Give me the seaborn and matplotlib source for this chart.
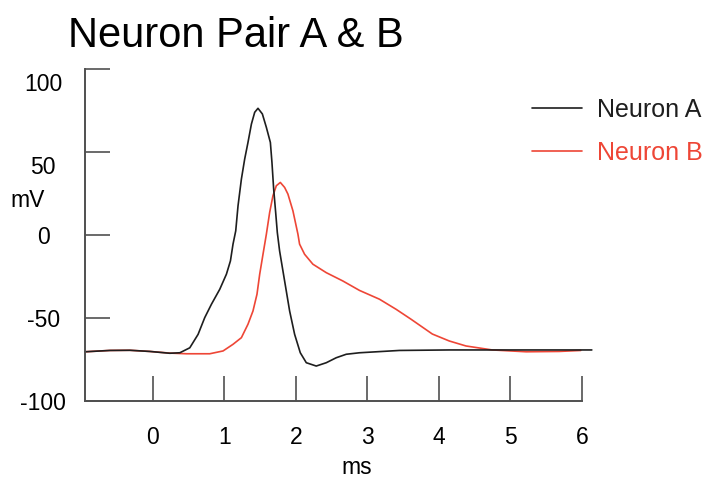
import matplotlib
matplotlib.use("Agg")
import matplotlib.pyplot as plt
import matplotlib.transforms as mtransforms
import seaborn as sns

# values (time in ms, membrane potential in mV)
ms_a = [-0.944, -0.596, -0.317, -0.038, 0.241, 0.381, 0.520, 0.636, 0.729, 0.823,
        0.939, 1.032, 1.088, 1.124, 1.162, 1.194, 1.241, 1.287, 1.333, 1.381,
        1.427, 1.473, 1.534, 1.590, 1.646, 1.668, 1.692, 1.720, 1.743, 1.775,
        1.845, 1.915, 1.985, 2.064, 2.148, 2.287, 2.427, 2.566, 2.706, 2.891,
        3.449, 4.146, 4.844, 5.541, 6.137]
mv_a = [-70.5, -69.7, -69.6, -70.3, -71.4, -71.1, -68.1, -60.0, -49.9, -41.8,
        -32.8, -23.7, -15.7, -5.6, 2.4, 17.5, 33.6, 45.7, 55.7, 66.8,
        73.9, 76.3, 72.9, 64.8, 55.7, 43.7, 27.6, 13.5, 1.4, -9.7,
        -27.8, -45.9, -60.0, -71.1, -77.1, -79.1, -77.1, -74.1, -72.0, -71.1,
        -69.7, -69.4, -69.4, -69.4, -69.4]

ms_b = [-0.944, -0.596, -0.317, -0.038, 0.241, 0.474, 0.799, 0.985, 1.124, 1.241,
        1.333, 1.403, 1.459, 1.497, 1.543, 1.590, 1.636, 1.682, 1.729, 1.785,
        1.845, 1.891, 1.961, 2.031, 2.054, 2.124, 2.240, 2.427, 2.658, 2.891,
        3.170, 3.403, 3.612, 3.909, 4.146, 4.379, 4.746, 5.220, 5.680, 5.983]
mv_b = [-70.5, -69.7, -69.6, -70.3, -71.3, -71.7, -71.7, -70.0, -66.0, -62.0,
        -53.9, -45.9, -35.8, -23.7, -11.7, 0.4, 13.5, 23.6, 29.6, 31.6,
        28.6, 24.6, 14.5, 0.4, -5.6, -11.7, -17.7, -22.8, -27.8, -33.5,
        -38.8, -44.9, -50.9, -59.8, -64.0, -67.0, -69.4, -70.5, -70.3, -69.7]

x_ticks = [0, 1, 2, 3, 4, 5, 6]
y_ticks = [-100, -50, 0, 50, 100]
color_a = "#1e1e1e"
color_b = "#ee4636"
axis_gray = "#505050"

sns.set_style("ticks", {"text.color": "black", "axes.labelcolor": "black"})
plt.rcParams["font.family"] = ["Liberation Sans", "DejaVu Sans"]

fig = plt.figure(figsize=(7.11, 4.79), dpi=100)
ax = fig.add_axes([85 / 711, 78.3 / 479, 497 / 711, 331.7 / 479])

# red first so the black trace sits on top
sns.lineplot(x=ms_b, y=mv_b, color=color_b, lw=1.2, label="Neuron B", ax=ax)
sns.lineplot(x=ms_a, y=mv_a, color=color_a, lw=1.2, label="Neuron A", ax=ax)
for line in ax.lines:
    line.set_clip_on(False)
    line.set_solid_joinstyle("round")

ax.set_xlim(-0.944, 6.0)
ax.set_ylim(-100, 100)
ax.set_xticks(x_ticks, [str(t) for t in x_ticks])
ax.set_yticks(y_ticks, [str(t) for t in y_ticks])

sns.despine(ax=ax)
for side in ("left", "bottom"):
    ax.spines[side].set_color(axis_gray)
    ax.spines[side].set_linewidth(1.4)

ax.tick_params(axis="x", direction="in", length=18, width=1.2, color=axis_gray,
               labelcolor="black", pad=18, labelsize=16.5)
ax.tick_params(axis="y", direction="in", length=18, width=1.2, color=axis_gray,
               labelcolor="black", pad=30, labelsize=16.5)
plt.setp(ax.get_yticklabels(), ha="center")

ax.set_xlabel("ms", fontsize=16.5, va="center", color="black")
ax.xaxis.set_label_coords(0.547, -0.20)
ax.set_ylabel("mV", fontsize=16.5, rotation=0, ha="center", va="center", color="black")
ax.yaxis.set_label_coords(-0.116, 0.604)

fig.suptitle("Neuron Pair A & B", x=68 / 711, y=1 - 47 / 479,
             ha="left", va="baseline", fontsize=30, color="black")

handles, labels = ax.get_legend_handles_labels()
order = [labels.index("Neuron A"), labels.index("Neuron B")]
ax.legend([handles[i] for i in order], [labels[i] for i in order],
          loc="upper left", bbox_to_anchor=(532 / 711, 1 - 98 / 479),
          bbox_transform=fig.transFigure, frameon=False, fontsize=18,
          borderpad=0, borderaxespad=0, handlelength=2.0, handletextpad=0.6,
          labelspacing=0.76, labelcolor="linecolor")

# the 100 and 50 labels sit a bit below their ticks in the original
shift = mtransforms.ScaledTranslation(0, -13 / 100, fig.dpi_scale_trans)
for lbl in ax.get_yticklabels():
    if lbl.get_text() in ("100", "50"):
        lbl.set_transform(lbl.get_transform() + shift)

fig.savefig("out.png", dpi=100)
